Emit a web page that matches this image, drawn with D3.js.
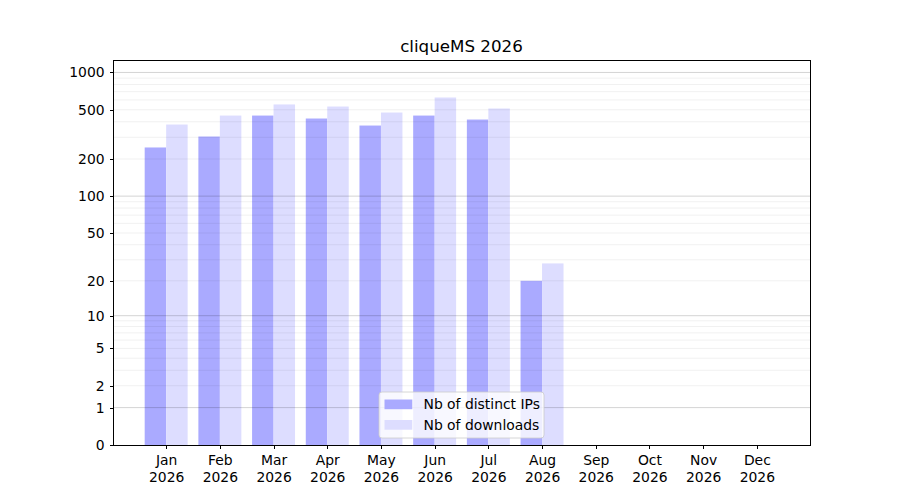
<!doctype html>
<html lang="en">
<head>
<meta charset="UTF-8" />
<title>cliqueMS 2026</title>
<script src="https://d3js.org/d3.v7.min.js"></script>
<style>
  body { margin: 0; background: #fff; }
  text { font-family: "DejaVu Sans", sans-serif; }
</style>
</head>
<body>
<div id="chart"></div>
<script>
// values
var months = ['Jan', 'Feb', 'Mar', 'Apr', 'May', 'Jun', 'Jul', 'Aug', 'Sep', 'Oct', 'Nov', 'Dec'];
var yearLabel = '2026';
var distinctIPs = [248, 304, 449, 425, 373, 449, 417, 20, 0, 0, 0, 0];
var downloads = [380, 449, 552, 531, 475, 628, 512, 28, 0, 0, 0, 0];
var yTicks = [0, 1, 2, 5, 10, 20, 50, 100, 200, 500, 1000];
var majorGrid = [1, 10, 100, 1000];
var minorGrid = [2, 3, 4, 5, 6, 7, 8, 9, 20, 30, 40, 50, 60, 70, 80, 90, 200, 300, 400, 500, 600, 700, 800, 900];
var seriesNames = ['Nb of distinct IPs', 'Nb of downloads'];
var seriesColors = ['#aaaaff', '#ddddff'];

var width = 900, height = 500;
// plot area edges (window.top is reserved, so not named "top")
var pLeft = 113, pRight = 810, pTop = 60, pBottom = 445;

var svg = d3.select('#chart').append('svg')
    .attr('width', width)
    .attr('height', height);

var x = d3.scaleLinear().domain([-0.99, 11.99]).range([pLeft, pRight]);
// log(1 + x) scale
var y = d3.scaleSymlog().constant(1).domain([0, 1260]).range([pBottom, pTop]);

svg.append('text')
    .attr('x', (pLeft + pRight) / 2)
    .attr('y', 52)
    .attr('text-anchor', 'middle')
    .attr('font-size', '16.7px')
    .text('cliqueMS ' + yearLabel);

var plot = svg.append('g');

// bars
[distinctIPs, downloads].forEach(function (vals, s) {
    plot.selectAll('.bar' + s)
        .data(vals)
        .enter()
        .append('rect')
        .attr('class', 'bar' + s)
        .attr('x', (d, i) => x(i - 0.4 + s * 0.4))
        .attr('width', x(0.4) - x(0))
        .attr('y', d => y(d))
        .attr('height', d => pBottom - y(d))
        .attr('fill', seriesColors[s]);
});

// grid drawn over the bars
plot.selectAll('.minor')
    .data(minorGrid)
    .enter()
    .append('line')
    .attr('x1', pLeft).attr('x2', pRight)
    .attr('y1', d => y(d)).attr('y2', d => y(d))
    .attr('stroke', '#000')
    .attr('stroke-opacity', 0.075)
    .attr('stroke-width', 0.8);

plot.selectAll('.major')
    .data(majorGrid)
    .enter()
    .append('line')
    .attr('x1', pLeft).attr('x2', pRight)
    .attr('y1', d => y(d)).attr('y2', d => y(d))
    .attr('stroke', '#000')
    .attr('stroke-opacity', 0.22)
    .attr('stroke-width', 0.8);

// axes
var yAxis = svg.append('g')
    .attr('transform', 'translate(' + pLeft + ',0)')
    .call(d3.axisLeft(y).tickValues(yTicks).tickSize(3.5).tickPadding(4.9).tickFormat(d3.format('d')));

var xAxis = svg.append('g')
    .attr('transform', 'translate(0,' + pBottom + ')')
    .call(d3.axisBottom(x).tickValues(d3.range(months.length)).tickSize(3.5).tickFormat(''));

[yAxis, xAxis].forEach(function (g) {
    g.select('.domain').remove();
    g.selectAll('.tick line')
        .attr('stroke', '#000')
        .attr('stroke-width', 1)
        .attr('shape-rendering', 'crispEdges');
    g.selectAll('.tick text').attr('font-size', '13.9px').attr('font-family', '"DejaVu Sans", sans-serif').attr('fill', '#000');
});

xAxis.selectAll('.tick').each(function (d) {
    var t = d3.select(this).append('text')
        .attr('text-anchor', 'middle')
        .attr('font-size', '13.9px')
        .attr('fill', '#000');
    t.append('tspan').attr('x', 0).attr('y', 20).text(months[d]);
    t.append('tspan').attr('x', 0).attr('y', 36.7).text(yearLabel);
});

svg.append('rect')
    .attr('x', pLeft).attr('y', pTop)
    .attr('width', pRight - pLeft).attr('height', pBottom - pTop)
    .attr('fill', 'none')
    .attr('stroke', '#000')
    .attr('stroke-width', 1)
    .attr('shape-rendering', 'crispEdges');

// legend, lower centre
var legend = svg.append('g').attr('transform', 'translate(379,392)');
legend.append('rect')
    .attr('width', 165).attr('height', 46)
    .attr('rx', 3)
    .attr('fill', '#fff').attr('fill-opacity', 0.8)
    .attr('stroke', '#cccccc').attr('stroke-width', 0.8);

seriesNames.forEach(function (name, i) {
    legend.append('rect')
        .attr('x', 5.5).attr('y', 7.5 + i * 20.5)
        .attr('width', 27.8).attr('height', 9.7)
        .attr('fill', seriesColors[i]);
    legend.append('text')
        .attr('x', 44.5).attr('y', 17 + i * 20.5)
        .attr('font-size', '13.9px')
        .text(name);
});
</script>
</body>
</html>
